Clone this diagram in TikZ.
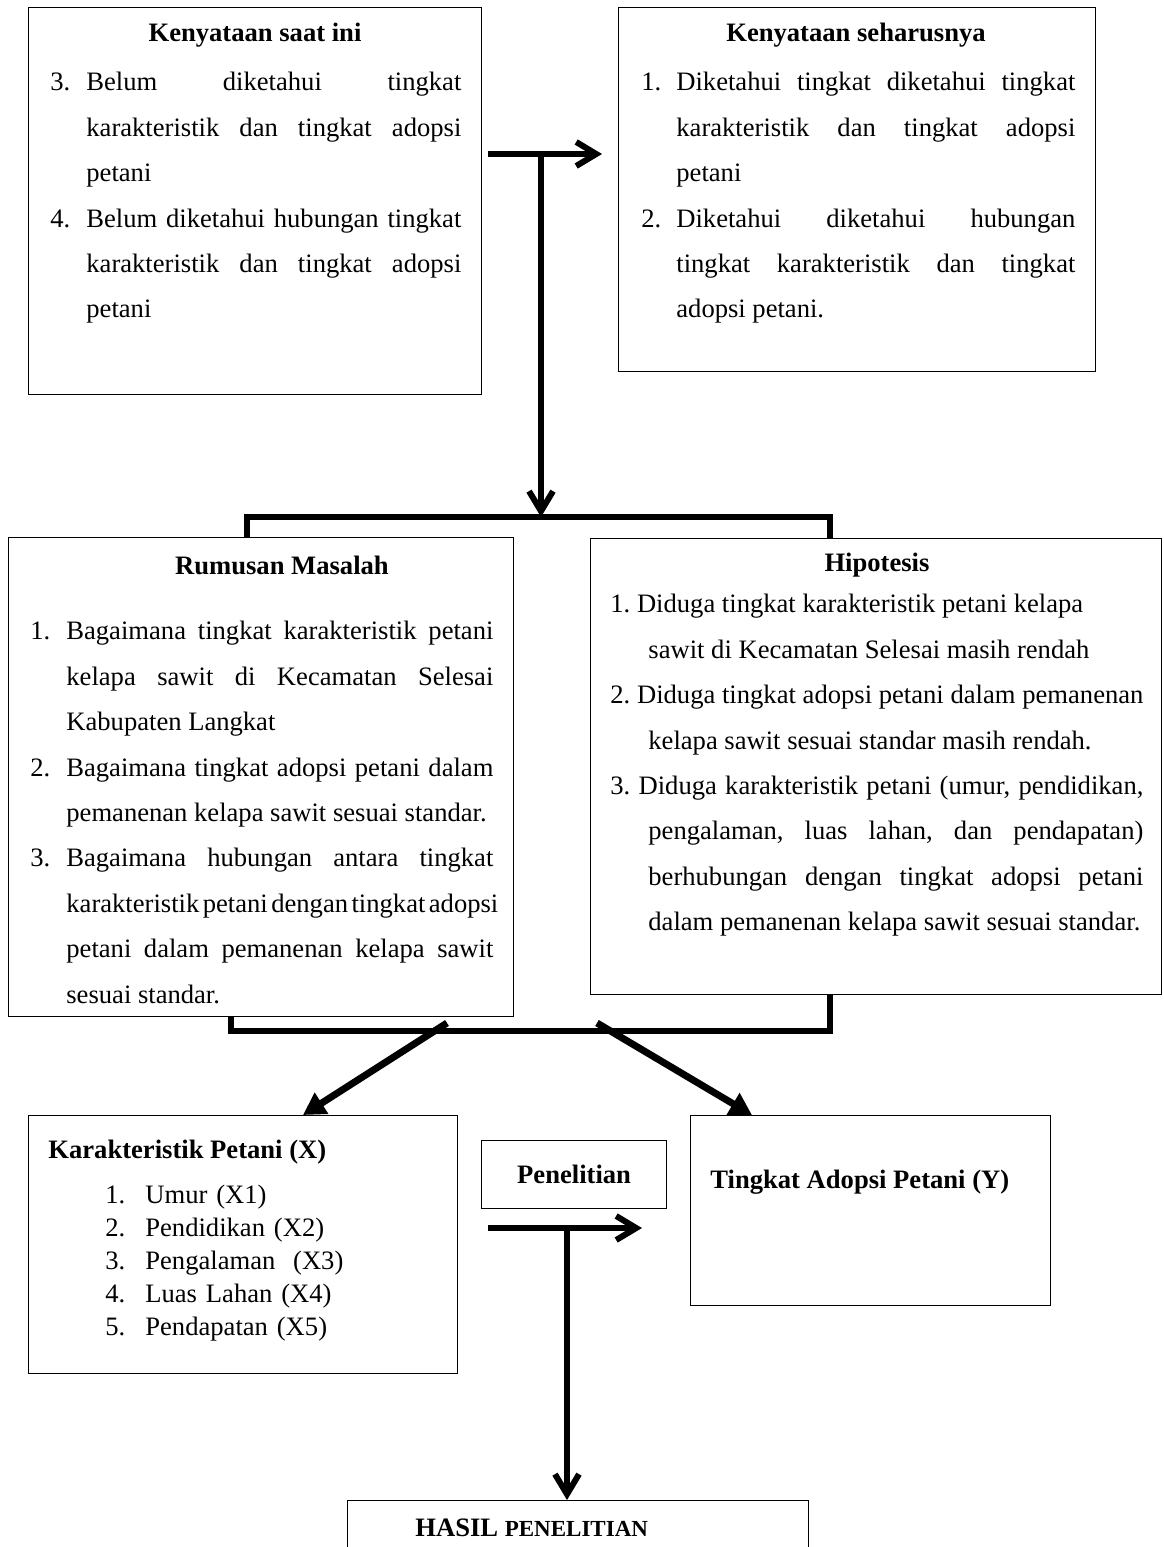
\documentclass[tikz,border=0pt]{standalone}
\usepackage{fontspec}
\setmainfont{Liberation Serif}
\usetikzlibrary{arrows.meta,positioning}
\frenchspacing
\hyphenpenalty=10000

\newcommand{\butir}[3][18pt]{\hangindent=#1\hangafter=1\noindent\makebox[#1][l]{#2}#3\par}
\newcommand{\butirb}[2]{\hangindent=19pt\hangafter=1\noindent #1 #2\par}

\begin{document}
\begin{tikzpicture}[x=0.5pt,y=-0.5pt,
		kotak/.style={draw,line width=0.6pt,inner sep=0pt,anchor=north west},
		isi/.style={inner sep=0pt,anchor=north west,align=justify,
			font=\fontsize{13.3}{22.7}\selectfont},
		judul/.style={inner sep=0pt,font=\fontsize{13.3}{16}\selectfont\bfseries},
		panah/.style={line width=3pt,-{Straight Barb[length=10pt,width=12pt]}},
		panahtebal/.style={line width=3.5pt,-{Triangle[length=11pt,width=12pt]}},
		kurung/.style={line width=2.6pt}
		]
		\useasboundingbox (0,0) rectangle (1163,1547);
		
		% kotak atas
		\node[kotak, minimum width=226.5pt, minimum height=193.5pt](saatini) at (28,7){};
		\node[judul] (jsaat) at (255,35){Kenyataan saat ini};
		\node[isi, text width=205.5pt] (lsaat) at (50,72){%
			\butir{3.}{Belum diketahui tingkat\linebreak karakteristik dan tingkat adopsi\linebreak petani}
			\butir{4.}{Belum diketahui hubungan tingkat\linebreak karakteristik dan tingkat adopsi\linebreak petani}};
		
		\node[kotak, minimum width=238.5pt, minimum height=182pt](seharusnya) at (618,7){};
		\node[judul] (jharus) at (856,35){Kenyataan seharusnya};
		\node[isi, text width=217pt] (lharus) at (641,72){%
			\butir[17.5pt]{1.}{Diketahui tingkat diketahui tingkat\linebreak karakteristik dan tingkat adopsi\linebreak petani}
			\butir[17.5pt]{2.}{Diketahui diketahui hubungan\linebreak tingkat karakteristik dan tingkat\linebreak adopsi petani.}};
		
		% kotak tengah
		\node[kotak, minimum width=252.5pt, minimum height=239.5pt](rumusan) at (8,537){};
		\node[judul] (jrumusan) at (282,565){Rumusan Masalah};
		\node[isi, text width=231.5pt] (lrumusan) at (30,621){%
			\butir{1.}{Bagaimana tingkat karakteristik petani\linebreak kelapa sawit di Kecamatan Selesai\linebreak Kabupaten Langkat}
			\butir{2.}{Bagaimana tingkat adopsi petani dalam\linebreak pemanenan kelapa sawit sesuai standar.}
			\butir{3.}{Bagaimana hubungan antara tingkat\linebreak {\spaceskip=0.25em plus 1em minus 0.12em karakteristik~petani~dengan~tingkat~adopsi}\linebreak petani dalam pemanenan kelapa sawit\linebreak sesuai standar.}};
		
		\node[kotak, minimum width=285.5pt, minimum height=228pt](hipotesis) at (590,538){};
		\node[judul] (jhipotesis) at (877,565){Hipotesis};
		\node[isi, text width=266.5pt] (lhipotesis) at (610,594){%
			\butirb{1.}{Diduga tingkat karakteristik petani kelapa\newline sawit di Kecamatan Selesai masih rendah}
			\butirb{2.}{Diduga tingkat adopsi petani dalam pemanenan\linebreak kelapa sawit sesuai standar masih rendah.}
			\butirb{3.}{Diduga karakteristik petani (umur, pendidikan,\linebreak pengalaman, luas lahan, dan pendapatan)\linebreak berhubungan dengan tingkat adopsi petani\linebreak dalam pemanenan kelapa sawit sesuai standar.}};
		
		% kotak bawah
		\node[kotak, minimum width=214.5pt, minimum height=129pt](karakteristik) at (28,1115){};
		\node[judul, anchor=west] (jkarakter) at (48,1152){Karakteristik Petani (X)};
		\node[isi, text width=160pt, align=left, font=\fontsize{13.3}{16.5}\selectfont] (lkarakter) at (105,1185){%
			\butir[20pt]{1.}{Umur (X1)}
			\butir[20pt]{2.}{Pendidikan (X2)}
			\butir[20pt]{3.}{Pengalaman\ \ (X3)}
			\butir[20pt]{4.}{Luas Lahan (X4)}
			\butir[20pt]{5.}{Pendapatan (X5)}};
		
		\node[kotak, minimum width=180pt, minimum height=95pt](adopsi) at (690,1115){};
		\node[judul, anchor=west] (jadopsi) at (710,1182){Tingkat Adopsi Petani (Y)};
		
		\node[kotak, minimum width=92.5pt, minimum height=34pt](penelitian) at (481,1140){};
		\node[judul] (jpenelitian) at (penelitian.center){Penelitian};
		
		\node[kotak, minimum width=230.5pt, minimum height=40pt](hasil) at (347,1500){};
		\node[judul, anchor=west] (jhasil) at (415,1528){HASIL {\fontsize{11.5}{13}\selectfont PENELITIAN}};
		
		% panah
		\coordinate (kiri1) at (488,154);
		\coordinate (kanan1) at (602,154);
		\coordinate (turun1) at (541,157);
		\coordinate (kurung1) at (541,517);
		\draw[panah] (kiri1) -- (kanan1);
		\draw[panah] (turun1) -- (kurung1);
		\draw[kurung] ([xshift=119.5pt]rumusan.north west) |- (kurung1) -| ([xshift=120pt]hipotesis.north west);
		
		\coordinate (kurung2) at (541,1031);
		\draw[kurung] ([xshift=111.5pt]rumusan.south west) |- (kurung2) -| ([xshift=120pt]hipotesis.south west);
		\coordinate (pangkal1) at (447,1023);
		\coordinate (pangkal2) at (597,1023);
		\draw[panahtebal] (pangkal1) -- ([xshift=137.5pt]karakteristik.north west);
		\draw[panahtebal] (pangkal2) -- ([xshift=31pt]adopsi.north west);
		
		\coordinate (kiri2) at (488,1228);
		\coordinate (kanan2) at (642,1228);
		\coordinate (turun2) at (567,1231);
		\draw[panah] (kiri2) -- (kanan2);
		\draw[panah] (turun2) -- ([xshift=110pt]hasil.north west);
	\end{tikzpicture}
\end{document}
